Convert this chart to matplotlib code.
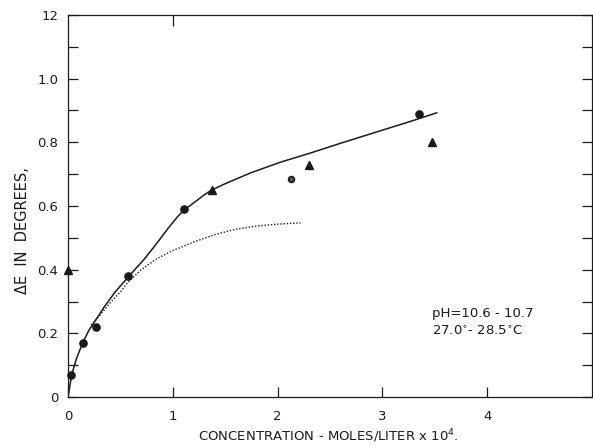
import matplotlib
matplotlib.use("Agg")
import matplotlib.pyplot as plt

plt.rcParams.update({
    "font.family": "DejaVu Sans",
    "font.size": 9,
})

# measured points (concentration x 1e4 mol/L, delta E in degrees)
circle_x = [0.03, 0.14, 0.27, 0.57, 1.11, 3.35]
circle_y = [0.07, 0.17, 0.22, 0.38, 0.59, 0.89]
small_circle_x = [2.13]
small_circle_y = [0.685]
tri_x = [0.0, 1.37, 2.30, 3.47]
tri_y = [0.40, 0.65, 0.73, 0.80]

# hand-drawn fitted curve
fit_x = [0.0, 0.02, 0.04, 0.08, 0.14, 0.20, 0.27, 0.35, 0.45, 0.57, 0.65,
         0.72, 0.80, 0.88, 0.96, 1.05, 1.11, 1.20, 1.30, 1.37, 1.50, 1.75,
         2.03, 2.30, 2.60, 2.90, 3.27, 3.52]
fit_y = [0.0, 0.04, 0.075, 0.12, 0.17, 0.21, 0.245, 0.285, 0.33, 0.375,
         0.405, 0.43, 0.463, 0.497, 0.532, 0.568, 0.588, 0.61, 0.635, 0.65,
         0.67, 0.705, 0.738, 0.765, 0.797, 0.828, 0.866, 0.893]

# dotted comparison curve
calc_x = [0.22, 0.30, 0.40, 0.50, 0.57, 0.70, 0.85, 1.00, 1.20, 1.40, 1.60,
          1.80, 2.00, 2.22]
calc_y = [0.225, 0.255, 0.295, 0.33, 0.36, 0.40, 0.435, 0.46, 0.487, 0.51,
          0.527, 0.537, 0.543, 0.547]

ytick_vals = [0, 0.2, 0.4, 0.6, 0.8, 1.0, 1.2]
ytick_text = ["0", "0.2", "0.4", "0.6", "0.8", "1.0", "12"]
xtick_vals = [0, 1, 2, 3, 4]
xtick_text = ["0", "1", "2", "3", "4"]

INK = "#1a1a1a"

fig = plt.figure(figsize=(5.93, 4.46), dpi=100)
ax = fig.add_axes([68/593, 1-397/446, 524/593, 382/446])
ax.set_xlim(0, 5)
ax.set_ylim(0, 1.2)

ax.plot(fit_x, fit_y, color=INK, lw=1.1, solid_capstyle="round")
ax.plot(calc_x, calc_y, color=INK, lw=1.0, ls=(0, (1, 1.3)))

ax.plot(circle_x, circle_y, "o", color=INK, ms=5.2, clip_on=False)
ax.plot(small_circle_x, small_circle_y, "o", mfc="#555555", mec=INK,
        mew=1.2, ms=4.2)
ax.plot(tri_x, tri_y, "^", color=INK, ms=6, clip_on=False)

for s in ax.spines.values():
    s.set_linewidth(0.9)
    s.set_color(INK)

# inward ticks on all sides, every 0.1 on the y axes
ax.set_yticks(ytick_vals)
ax.set_yticklabels(ytick_text)
ax.set_yticks([0.1, 0.3, 0.5, 0.7, 0.9, 1.1], minor=True)
ax.set_xticks(xtick_vals)
ax.set_xticklabels(xtick_text)
ax.tick_params(axis="both", which="both", direction="in", length=7,
               width=0.9, color=INK, labelcolor=INK, labelsize=9.5)
ax.tick_params(axis="y", which="both", right=True, pad=7)
ax.tick_params(axis="x", which="both", pad=9)

top = ax.secondary_xaxis("top")
top.set_xticks([1])
top.tick_params(direction="in", length=8, width=0.9, color=INK,
                labeltop=False)
top.spines["top"].set_visible(False)

ax.text(3.47, 0.263, "pH=10.6 - 10.7", fontsize=9.5, color=INK,
        ha="left", va="center")
ax.text(3.47, 0.205, "27.0$^{\\circ}$- 28.5$^{\\circ}$C", fontsize=9.5,
        color=INK, ha="left", va="center")

fig.text(23/593, 1-231/446, "\u0394E  IN  DEGREES,", rotation=90,
         ha="center", va="center", fontsize=10.5, color=INK)
fig.text(328/593, 1-436/446, "CONCENTRATION - MOLES/LITER x 10$^{4}$.",
         ha="center", va="center", fontsize=9.5, color=INK)

fig.savefig("out.png", dpi=100)
